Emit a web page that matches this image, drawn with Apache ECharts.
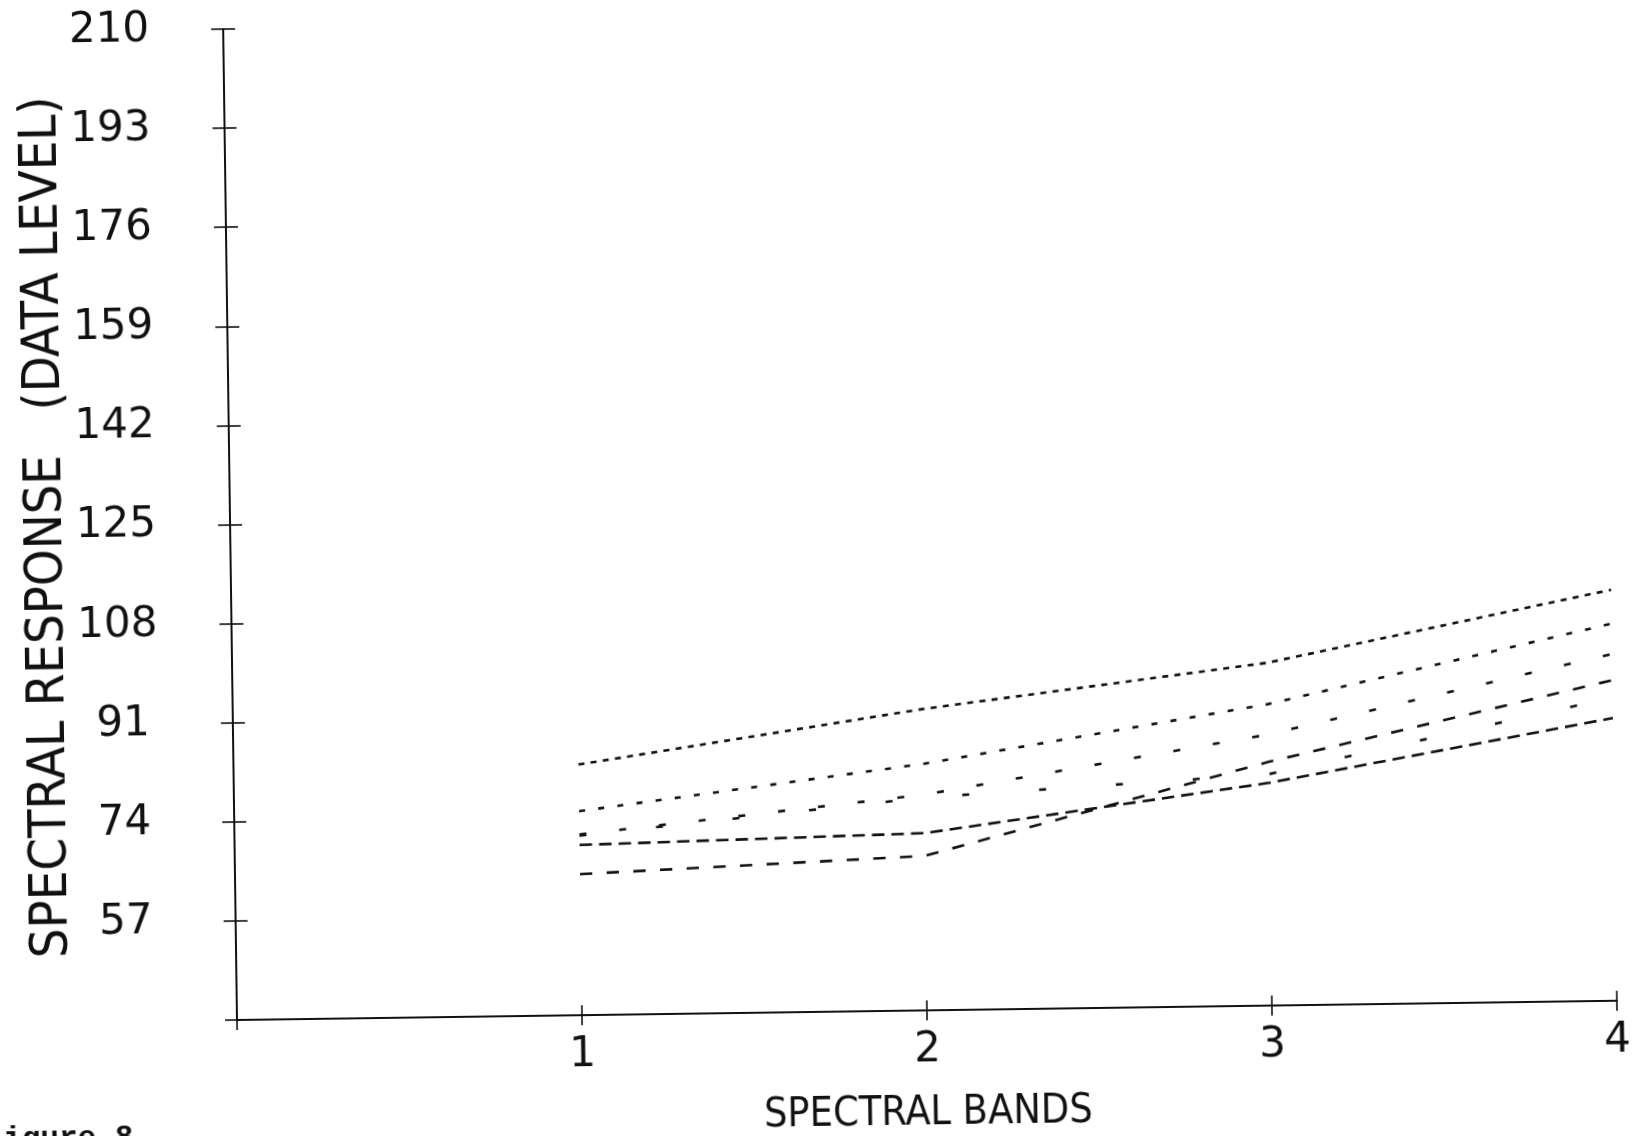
<!DOCTYPE html>
<html>
<head>
<meta charset="utf-8">
<script src="https://cdn.jsdelivr.net/npm/echarts@6/dist/echarts.min.js"></script>
<style>
  html, body { margin: 0; padding: 0; background: #fff; overflow: hidden; }
  #chart {
    width: 1633px; height: 1136px;
    transform: rotate(-0.8deg);
    transform-origin: 237px 1020px;
  }
</style>
</head>
<body>
<div id="chart"></div>
<script>
// Spectral bands on the horizontal axis
const bands = [1, 2, 3, 4];
const bandTickValues = [0, 1, 2, 3, 4];

// Data level ticks on the vertical axis
const levelTickValues = [40, 57, 74, 91, 108, 125, 142, 159, 176, 193, 210];
const levelTickLabels = [57, 74, 91, 108, 125, 142, 159, 176, 193, 210];

// Mean spectral response per class, band 1..4
const fineDotted   = [83.0, 91.7, 98.8, 110.5];
const dotted       = [75.0, 82.3, 91.7, 104.7];
const sparseDash   = [71.0, 77.0, 86.5, 99.5];
const widestDash   = [70.8, 76.5, 79.7, 92.0];
const shortDash    = [64.2, 66.5, 81.8, 95.0];
const longDash     = [69.2, 70.4, 78.2, 88.5];

const INK = '#111';
const NUMBER_FONT = '"DejaVu Sans", sans-serif';
const NARROW_FONT = '"Liberation Sans Narrow", "DejaVu Sans Condensed", "Liberation Sans", sans-serif';

function line(values, dash) {
  return {
    type: 'line',
    xAxisIndex: 0,
    yAxisIndex: 0,
    data: bands.map((b, i) => [b, values[i]]),
    symbol: 'none',
    silent: true,
    lineStyle: { color: INK, width: 2.6, type: dash, cap: 'butt' }
  };
}

const tickLine = { color: INK, width: 1.6 };
const numberStyle = { color: INK, fontFamily: NUMBER_FONT, fontSize: 42 };

const chart = echarts.init(document.getElementById('chart'), null, { renderer: 'canvas' });
chart.setOption({
  animation: false,
  backgroundColor: '#fff',
  grid: {
    left: 237, right: 16, top: 29, bottom: 116,
    containLabel: false,
    outerBoundsMode: 'none'
  },
  xAxis: [
    {
      type: 'value', min: 0, max: 4, interval: 1,
      axisLine: { show: true, onZero: false, lineStyle: { color: INK, width: 2 } },
      axisTick: { show: true, inside: false, length: 10, customValues: bandTickValues, lineStyle: tickLine },
      axisLabel: Object.assign({ customValues: bands, margin: 19 }, numberStyle),
      splitLine: { show: false },
      name: 'SPECTRAL BANDS', nameLocation: 'middle', nameGap: 83,
      nameMoveOverlap: false,
      nameTextStyle: { color: INK, fontFamily: NARROW_FONT, fontSize: 41 }
    },
    {
      type: 'value', min: 0, max: 4, interval: 1, position: 'bottom',
      axisLine: { show: false, onZero: false },
      axisTick: { show: true, inside: true, length: 10, customValues: bandTickValues, lineStyle: tickLine },
      axisLabel: { show: false },
      splitLine: { show: false }
    }
  ],
  yAxis: [
    {
      type: 'value', min: 40, max: 210, position: 'left',
      axisLine: { show: true, onZero: false, lineStyle: { color: INK, width: 2 } },
      axisTick: { show: true, inside: false, length: 12, customValues: levelTickValues, lineStyle: tickLine },
      axisLabel: {
        customValues: levelTickLabels, margin: 74,
        // two-digit levels sit a little further in from the axis
        formatter: v => (v < 100 ? '{two|' + v + '}' : '{three|' + v + '}'),
        rich: {
          two: Object.assign({ padding: [0, 9, 0, 0] }, numberStyle),
          three: Object.assign({}, numberStyle)
        }
      },
      splitLine: { show: false },
      name: 'SPECTRAL RESPONSE   (DATA LEVEL)', nameLocation: 'middle', nameGap: 157,
      nameRotate: 90,
      nameMoveOverlap: false,
      nameTextStyle: { color: INK, fontFamily: NARROW_FONT, fontSize: 52 }
    },
    {
      type: 'value', min: 40, max: 210, position: 'left',
      axisLine: { show: false, onZero: false },
      axisTick: { show: true, inside: true, length: 12, customValues: levelTickValues, lineStyle: tickLine },
      axisLabel: { show: false },
      splitLine: { show: false }
    }
  ],
  graphic: [
    {
      type: 'text', left: -17, top: 1122, silent: true,
      style: { text: 'Figure 8', fill: INK, font: 'bold 31px "Liberation Mono", "DejaVu Sans Mono", monospace' }
    }
  ],
  series: [
    line(fineDotted, [6, 6.3]),
    line(dotted, [6, 13.3]),
    line(sparseDash, [7, 33]),
    line(widestDash, [7, 70]),
    line(shortDash, [12.3, 14.4]),
    line(longDash, [12.5, 7])
  ]
});
</script>
</body>
</html>
